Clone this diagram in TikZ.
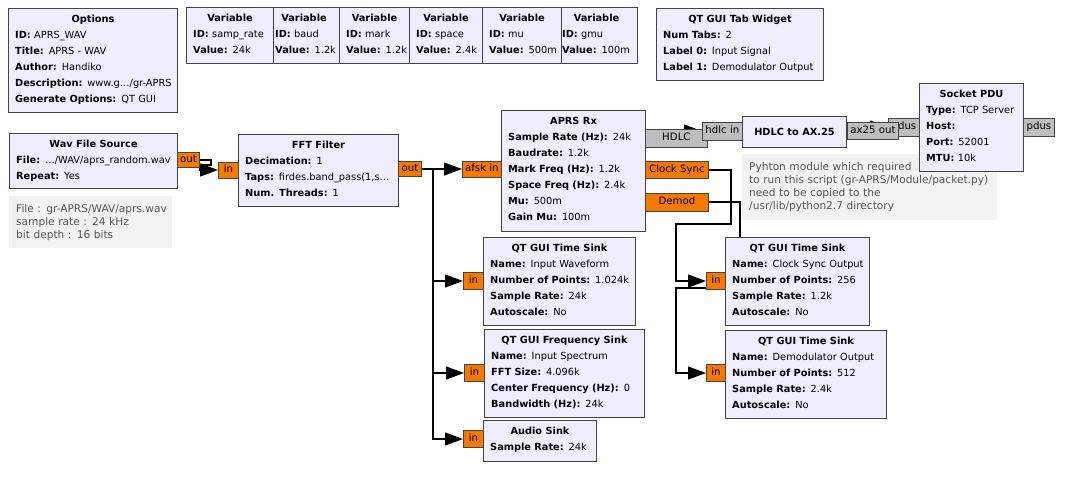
\documentclass[tikz,border=0pt]{standalone}
\usepackage{fontspec}
\setmainfont{DejaVu Sans}
\usetikzlibrary{arrows.meta}
\definecolor{blkfill}{HTML}{F0EEFE}
\definecolor{bordc}{HTML}{444444}
\definecolor{portor}{HTML}{F57900}
\definecolor{portgr}{HTML}{BEBEBE}
\definecolor{notefill}{HTML}{F2F2F2}
\definecolor{notetext}{HTML}{555555}
\newcommand\grf[2]{\textbf{#1:} #2}
\newcommand\grblk[7]{%
  \node[blk, minimum width=#4pt, minimum height=#5pt, anchor=north west] (#1) at (#2,#3) {};
  \node[blktitle, anchor=base] (#1-h) at ([yshift=-14.7pt]#1.north) {#6};
  \node[blkfields, anchor=north west] (#1-f) at ([xshift=7pt,yshift=-19.7pt]#1.north west) {\rule{0pt}{11pt}#7};
}
\newcommand\grport[7][port]{\node[#1, minimum width=#5pt, minimum height=#6pt, anchor=west] (#2) at (#3,#4) {#7};}
\begin{document}
\begin{tikzpicture}[x=1pt,y=-1pt,
  blk/.style={draw=bordc, fill=blkfill, line width=1pt, inner sep=0pt},
  blktitle/.style={font=\fontsize{9.8}{16}\selectfont\bfseries, inner sep=0pt},
  blkfields/.style={font=\fontsize{9.8}{16}\selectfont, inner sep=0pt, align=left, text width=300pt},
  port/.style={draw=bordc, fill=portor, line width=0.8pt, inner sep=0pt, font=\fontsize{10.2}{12}\selectfont, text height=7.5pt, text depth=2pt},
  mport/.style={port, fill=portgr},
  note/.style={fill=notefill, draw=none, inner xsep=7pt, inner ysep=0pt, align=left, font=\fontsize{10.6}{13}\selectfont, text=notetext},
  conn/.style={draw=black, line width=1.1pt, -{Triangle[length=18pt,width=13pt]}}
]
\useasboundingbox[fill=white] (0,0) rectangle (1073,488);

% notes
\node[note, text width=149pt, minimum height=52pt, anchor=north west] (wavnote) at (9,196)
  {\mbox{File : gr-APRS/WAV/aprs.wav}\\\mbox{sample rate : 24 kHz}\\\mbox{bit depth : 16 bits}};
\node[note, text width=241pt, minimum height=66pt, anchor=north west] (pynote) at (742,154)
  {\mbox{Pyhton module which required}\\\mbox{to run this script (gr-APRS/Module/packet.py)}\\\mbox{need to be copied to the}\\\mbox{/usr/lib/python2.7 directory}};

% port attachment points
\coordinate (wavoutE) at (199,160);
\coordinate (fftinW) at (218,170);
\coordinate (fftoutE) at (421,169);
\coordinate (afskinW) at (462,169);
\coordinate (fftbr) at (433,169);
\coordinate (tsinW) at (463,281);
\coordinate (fsinW) at (464,373);
\coordinate (asinW) at (463,439);
\coordinate (clkE) at (708,170);
\coordinate (demodE) at (708,202);
\coordinate (tclkinW) at (706,281);
\coordinate (tdeminW) at (706,373);
\coordinate (hdlcoutE) at (707,138);
\coordinate (hdlcinW) at (702,131);
\coordinate (ax25E) at (898,131);
\coordinate (pdusinW) at (888,127);

% connectors
\draw[conn] (wavoutE) -- ++(12,0) -- ++(0,5) -- ++(-11,0) |- (fftinW);
\draw[conn] (fftoutE) -- (afskinW);
\draw[conn] (fftbr) |- (tsinW);
\draw[conn] (fftbr) |- (fsinW);
\draw[conn] (fftbr) |- (asinW);
\draw[conn] (clkE) -- (731,170) -- (731,224) -- (676,224) |- (tclkinW);
\draw[conn] (demodE) -- (740,202) -- (740,288) -- (676,288) |- (tdeminW);
\draw[conn] (hdlcoutE) -- ++(12,0) |- ([xshift=-18pt]hdlcinW) -- (hdlcinW);
\draw[conn] (ax25E) -- ++(12,0) |- ([xshift=-18pt]pdusinW) -- (pdusinW);

% blocks
\grblk{opt}{8}{8}{169}{104}{Options}{\grf{ID}{APRS\_WAV}\\ \grf{Title}{APRS - WAV}\\ \grf{Author}{Handiko}\\ \grf{Description}{www.g…/gr-APRS}\\ \grf{Generate Options}{QT GUI}}
\grblk{vbaud}{268}{7}{71}{56}{Variable}{\grf{ID}{baud}\\ \grf{Value}{1.2k}}
\grblk{vgmu}{555}{7}{82}{56}{Variable}{\grf{ID}{gmu}\\ \grf{Value}{100m}}
\grblk{vsr}{186}{7}{87}{56}{Variable}{\grf{ID}{samp\_rate}\\ \grf{Value}{24k}}
\grblk{vmark}{339}{7}{70}{56}{Variable}{\grf{ID}{mark}\\ \grf{Value}{1.2k}}
\grblk{vspace}{409}{7}{73}{56}{Variable}{\grf{ID}{space}\\ \grf{Value}{2.4k}}
\grblk{vmu}{482}{7}{79}{56}{Variable}{\grf{ID}{mu}\\ \grf{Value}{500m}}
\grblk{tab}{656}{8}{167}{72}{QT GUI Tab Widget}{\grf{Num Tabs}{2}\\ \grf{Label 0}{Input Signal}\\ \grf{Label 1}{Demodulator Output}}
\grblk{wav}{9}{133}{168}{55}{Wav File Source}{\grf{File}{…/WAV/aprs\_random.wav}\\ \grf{Repeat}{Yes}}
\grblk{fft}{238}{134}{160}{72}{FFT Filter}{\grf{Decimation}{1}\\ \grf{Taps}{firdes.band\_pass(1,s…}\\ \grf{Num. Threads}{1}}
\grblk{aprs}{501}{110}{144}{121}{APRS Rx}{\grf{Sample Rate (Hz)}{24k}\\ \grf{Baudrate}{1.2k}\\ \grf{Mark Freq (Hz)}{1.2k}\\ \grf{Space Freq (Hz)}{2.4k}\\ \grf{Mu}{500m}\\ \grf{Gain Mu}{100m}}
\node[blk, font=\fontsize{9.8}{16}\selectfont\bfseries, minimum width=104pt, minimum height=31pt, anchor=north west] (hdlc2ax) at (742,116) {HDLC to AX.25};
\grblk{sock}{919}{83}{104}{88}{Socket PDU}{\grf{Type}{TCP Server}\\ \grf{Host}{}\\ \grf{Port}{52001}\\ \grf{MTU}{10k}}
\grblk{tsink}{483}{237}{152}{88}{QT GUI Time Sink}{\grf{Name}{Input Waveform}\\ \grf{Number of Points}{1.024k}\\ \grf{Sample Rate}{24k}\\ \grf{Autoscale}{No}}
\grblk{fsink}{484}{329}{160}{88}{QT GUI Frequency Sink}{\grf{Name}{Input Spectrum}\\ \grf{FFT Size}{4.096k}\\ \grf{Center Frequency (Hz)}{0}\\ \grf{Bandwidth (Hz)}{24k}}
\grblk{asink}{483}{420}{113}{41}{Audio Sink}{\grf{Sample Rate}{24k}}
\grblk{tclk}{725}{237}{144}{88}{QT GUI Time Sink}{\grf{Name}{Clock Sync Output}\\ \grf{Number of Points}{256}\\ \grf{Sample Rate}{1.2k}\\ \grf{Autoscale}{No}}
\grblk{tdem}{725}{330}{161}{88}{QT GUI Time Sink}{\grf{Name}{Demodulator Output}\\ \grf{Number of Points}{512}\\ \grf{Sample Rate}{2.4k}\\ \grf{Autoscale}{No}}

% ports
\grport{wavout}{177}{160}{22}{15}{out}
\grport{fftin}{218}{170}{20}{16}{in}
\grport{fftout}{398}{169}{23}{15}{out}
\grport{afskin}{462}{169}{39}{16}{afsk in}
\grport[mport]{hdlcout}{645}{138}{62}{18}{HDLC}
\grport[mport]{hdlcin}{702}{131}{40}{18}{hdlc in}
\grport{clk}{645}{170}{63}{17}{Clock Sync}
\grport{demod}{645}{202}{63}{18}{Demod}
\grport{tsin}{463}{281}{20}{17}{in}
\grport{fsin}{464}{373}{20}{17}{in}
\grport{asin}{463}{439}{20}{17}{in}
\grport{tclkin}{706}{281}{19}{17}{in}
\grport{tdemin}{706}{373}{19}{17}{in}
\grport[mport]{pdusin}{888}{127}{31}{18}{pdus}
\grport[mport]{ax25}{847}{131}{51}{17}{ax25 out}
\grport[mport]{pdusout}{1023}{127}{31}{18}{pdus}
\end{tikzpicture}
\end{document}
